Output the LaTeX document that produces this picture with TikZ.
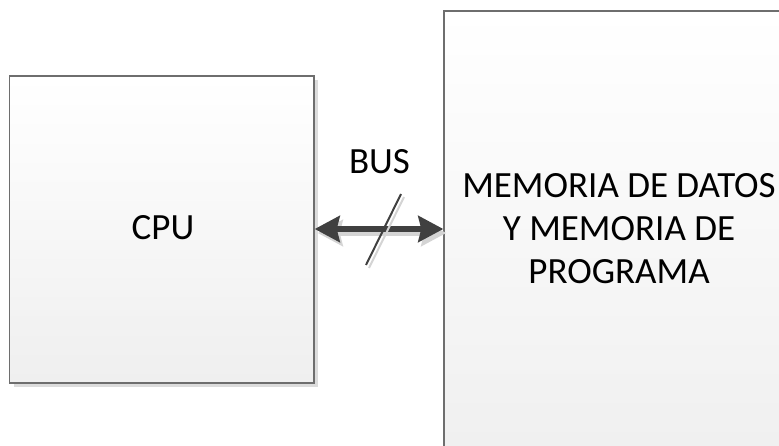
\documentclass[tikz,border=0pt]{standalone}
\usepackage{fontspec}
\setmainfont{Carlito}
\usetikzlibrary{arrows.meta}
\definecolor{boxline}{HTML}{6E6E6E}
\definecolor{boxshade}{HTML}{DCDCDC}
\definecolor{boxbottom}{HTML}{EFEFEF}
\definecolor{busgray}{HTML}{404040}
\definecolor{busshade}{HTML}{D4D4D4}
\tikzset{
  block/.style={draw=boxline, line width=1.4pt, top color=white, bottom color=boxbottom,
    minimum width=#1, inner sep=0pt},
  blockshade/.style={fill=boxshade, draw=none},
  label text/.style={font=\fontsize{37}{43}\selectfont, inner sep=0pt, text=black},
  bus/.style={line width=6pt, draw=busgray,
    {Stealth[length=25pt,width=26pt,inset=3pt]}-{Stealth[length=25pt,width=26pt,inset=3pt]}},
  busshadow/.style={line width=6pt, draw=busshade,
    {Stealth[length=25pt,width=26pt,inset=3pt]}-{Stealth[length=25pt,width=26pt,inset=3pt]}},
  slash/.style={line width=2pt, draw=busgray},
  slashshadow/.style={line width=2pt, draw=busshade}
}
\begin{document}
\begin{tikzpicture}[x=1pt,y=1pt]
  \useasboundingbox (0,0) rectangle (779,445);
  \clip (0,0) rectangle (779,445);

  % drop shadows of the two blocks
  \fill[blockshade] (13.5,58) rectangle (318,365);
  \fill[blockshade] (448,-30) rectangle (810,430);

  % processor block
  \node[block=304.5pt, minimum height=307pt] (cpu) at (161.75,215.5) {};
  % memory block (runs past the lower and right edges)
  \node[block=366pt, minimum height=464pt] (mem) at (627,202) {};

  % bus connector: shadow, then the double arrow
  \draw[busshadow] ([shift={(3,-4)}]cpu.east |- 0,216) -- ([shift={(3,-4)}]mem.west |- 0,216);
  \draw[bus] (cpu.east |- 0,216) -- (mem.west |- 0,216);

  % bus width slash
  \coordinate (s1) at (366,180);
  \coordinate (s2) at (401,251);
  \draw[slashshadow] ([shift={(3,-3)}]s1) -- ([shift={(3,-3)}]s2);
  \draw[slash] (s1) -- (s2);

  % texts
  \node[label text, anchor=base] (cputext) at (163,205.7) {CPU};
  \node[label text, anchor=base] (bustext) at (379.5,271) {BUS};
  \node[label text, align=center] (memtext) at (619,216)
    {MEMORIA DE DATOS\\Y MEMORIA DE\\PROGRAMA};
\end{tikzpicture}
\end{document}
